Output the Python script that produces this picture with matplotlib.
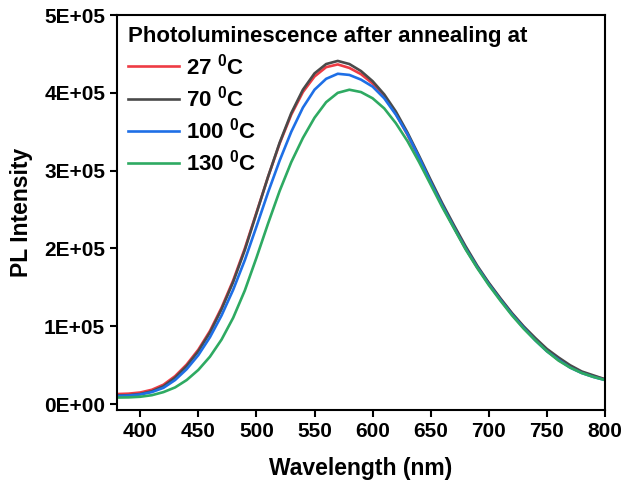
import numpy as np
import matplotlib
matplotlib.use("Agg")
import matplotlib.pyplot as plt
from matplotlib.ticker import FuncFormatter, MultipleLocator

plt.rcParams['font.family'] = ['Liberation Sans', 'DejaVu Sans']
plt.rcParams['font.weight'] = 'bold'
plt.rcParams['mathtext.fontset'] = 'custom'
plt.rcParams['mathtext.rm'] = 'Liberation Sans:bold'
plt.rcParams['mathtext.bf'] = 'Liberation Sans:bold'
plt.rcParams['mathtext.default'] = 'rm'

# wavelength grid (nm), every 10 nm
wl = np.arange(380, 801, 10)

# PL intensity
pl_27 = [13000, 13500, 15000, 18500, 25000, 36000, 51000, 70000, 94000, 124000,
         159000, 200000, 246000, 292000, 335000, 372000, 401000, 421000, 433000, 436500,
         432000, 424000, 412000, 395000, 373000, 346000, 316000, 285000, 255000, 227000,
         200000, 176000, 155000, 135000, 116000, 99000, 83000, 69000, 57000, 48000,
         41000, 36000, 32000]
pl_70 = [11000, 11500, 13000, 16500, 23000, 34000, 49000, 68000, 92000, 122000,
         157000, 198000, 245000, 292000, 336000, 374000, 404000, 425000, 437000, 441000,
         437000, 428000, 415000, 398000, 376000, 349000, 319000, 288000, 258000, 230000,
         203000, 178000, 156000, 136000, 117000, 100000, 85000, 71000, 60000, 50000,
         42000, 37000, 32000]
pl_100 = [10500, 11000, 12500, 15500, 21000, 31000, 45000, 63000, 86000, 114000,
          147000, 185000, 228000, 272000, 313000, 350000, 381000, 404000, 418000, 424500,
          423000, 417000, 408000, 393000, 372000, 347000, 317000, 285000, 255000, 227000,
          200000, 176000, 154000, 134000, 115000, 98000, 82000, 68000, 57000, 47000,
          40000, 35000, 31000]
pl_130 = [8500, 8700, 9500, 11500, 15500, 21500, 31000, 44000, 61000, 83000,
          111000, 146000, 188000, 232000, 274000, 311000, 342000, 368000, 388000, 400000,
          404000, 401000, 393000, 380000, 361000, 338000, 311000, 282000, 253000, 226000,
          199000, 175000, 153000, 133000, 114000, 97000, 82000, 68000, 56000, 47000,
          40000, 35000, 31000]

labels = [r'27 $^{0}$C', r'70 $^{0}$C', r'100 $^{0}$C', r'130 $^{0}$C']
colors = ['#EE3B44', '#4A4A4A', '#1E6FE6', '#2EAA62']

fig = plt.figure(figsize=(6.21, 4.84), dpi=100)
ax = fig.add_axes([0.1884, 0.1529, 0.7858, 0.8161])

for y, lab, c in zip([pl_27, pl_70, pl_100, pl_130], labels, colors):
    ax.plot(wl, y, color=c, lw=1.9, label=lab)

ax.set_xlim(380, 800)
ax.set_ylim(-7500, 500000)
ax.xaxis.set_major_locator(MultipleLocator(50))
ax.yaxis.set_major_locator(MultipleLocator(100000))
ax.yaxis.set_major_formatter(FuncFormatter(lambda v, p: f"{v:.0E}"))

for s in ax.spines.values():
    s.set_linewidth(1.5)
ax.tick_params(direction='out', length=5, width=1.5, labelsize=15)

ax.set_xlabel('Wavelength (nm)', fontsize=16.5, fontweight='bold', labelpad=12)
ax.set_ylabel('PL Intensity', fontsize=16.5, fontweight='bold', labelpad=8)

leg = ax.legend(loc='upper left', frameon=False, fontsize=16,
                title='Photoluminescence after annealing at',
                title_fontproperties={'size': 16, 'weight': 'bold'},
                alignment='left', handlelength=2.3, handletextpad=0.3,
                labelspacing=0.28, borderaxespad=0.2, borderpad=0.3)

fig.savefig('out.png', dpi=100)
